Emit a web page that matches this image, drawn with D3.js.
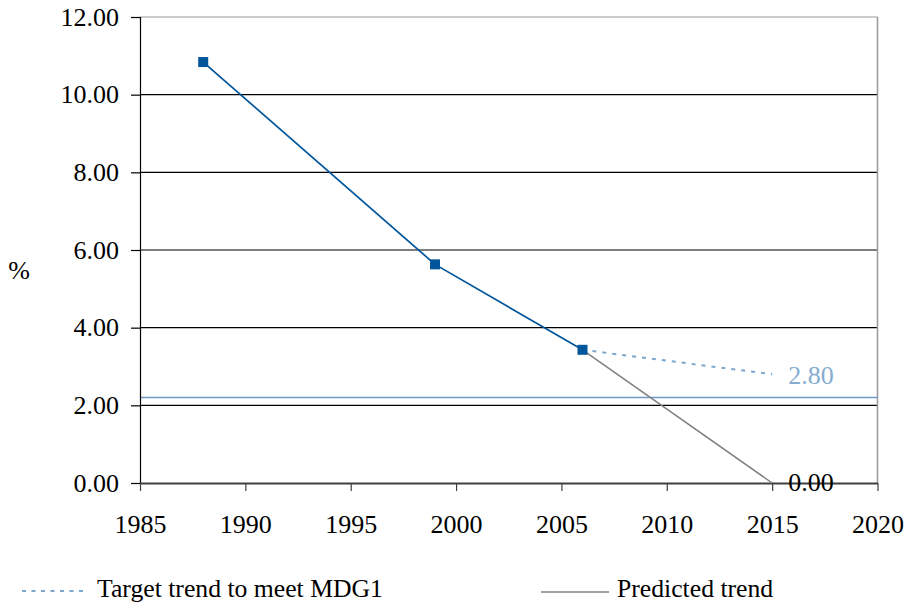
<!DOCTYPE html>
<html><head><meta charset="utf-8">
<script src="https://cdn.jsdelivr.net/npm/d3@7/dist/d3.min.js"></script>
</head><body style="margin:0;background:#fff"><svg id="c" width="909" height="607" style="display:block"></svg>
<script>
const years = [1988, 1999, 2006];
const values = [10.84, 5.63, 3.43];
const targetYears = [2006, 2015];
const targetValues = [3.43, 2.80];
const predictedYears = [2006, 2015];
const predictedValues = [3.43, 0.00];
const thresholdValue = 2.2;
const yTicks = [0, 2, 4, 6, 8, 10, 12];
const xTicks = [1985, 1990, 1995, 2000, 2005, 2010, 2015, 2020];
const legendLabels = ["Target trend to meet MDG1", "Predicted trend"];

const FONT = "Liberation Serif";
const svg = d3.select("#c").style("font-family", FONT);
const L = 140, R = 877.5, T = 17, B = 483;
const x = d3.scaleLinear().domain([1985, 2020]).range([L, R]);
const y = d3.scaleLinear().domain([0, 12]).range([B, T]);
const fs = 26;

svg.append("g").selectAll("line").data(yTicks.filter(d => d > 0 && d < 12)).join("line")
  .attr("x1", L).attr("x2", R).attr("y1", d => y(d)).attr("y2", d => y(d))
  .attr("stroke", "#000").attr("stroke-width", 1.2);
svg.append("line").attr("x1", L).attr("x2", R).attr("y1", y(12)).attr("y2", y(12)).attr("stroke", "#999").attr("stroke-width", 1.2);
svg.append("line").attr("x1", R).attr("x2", R).attr("y1", T).attr("y2", B).attr("stroke", "#999").attr("stroke-width", 1.5);
svg.append("line").attr("x1", L).attr("x2", R).attr("y1", y(thresholdValue)).attr("y2", y(thresholdValue))
  .attr("stroke", "#6b9bc7").attr("stroke-width", 1.5);

const yAxis = svg.append("g").attr("transform", `translate(${L},0)`)
  .call(d3.axisLeft(y).tickValues(yTicks).tickFormat(d3.format(".2f")).tickSize(9).tickPadding(12));
yAxis.attr("font-family", null).attr("font-size", null);
yAxis.select(".domain").attr("stroke", "#000").attr("stroke-width", 1.2);
yAxis.selectAll(".tick line").attr("stroke", "#000").attr("stroke-width", 1.2);
yAxis.selectAll("text").attr("fill", "#000").style("font-family", FONT).style("font-size", fs + "px");

const xAxis = svg.append("g").attr("transform", `translate(0,${B})`)
  .call(d3.axisBottom(x).tickValues(xTicks).tickFormat(d3.format("d")).tickSize(8).tickPadding(24).tickSizeOuter(0));
xAxis.attr("font-family", null).attr("font-size", null);
xAxis.select(".domain").attr("stroke", "#404040").attr("stroke-width", 2);
xAxis.selectAll(".tick line").attr("stroke", "#404040").attr("stroke-width", 1.2);
xAxis.selectAll("text").attr("fill", "#000").style("font-family", FONT).style("font-size", fs + "px");

svg.append("text").attr("x", 19).attr("y", 270).attr("text-anchor", "middle").attr("dominant-baseline", "central")
  .style("font-size", fs + "px").text("%");

const line = d3.line().x(d => x(d[0])).y(d => y(d[1]));
svg.append("path").attr("d", line(d3.zip(predictedYears, predictedValues)))
  .attr("fill", "none").attr("stroke", "#808080").attr("stroke-width", 1.5);
svg.append("path").attr("d", line(d3.zip(targetYears, targetValues)))
  .attr("fill", "none").attr("stroke", "#7ba7cf").attr("stroke-width", 2).attr("stroke-dasharray", "4,6");
svg.append("path").attr("d", line(d3.zip(years, values)))
  .attr("fill", "none").attr("stroke", "#00559b").attr("stroke-width", 1.7);
svg.append("g").selectAll("rect").data(d3.zip(years, values)).join("rect")
  .attr("x", d => x(d[0]) - 5).attr("y", d => y(d[1]) - 5).attr("width", 10).attr("height", 10)
  .attr("fill", "#00559b");

svg.append("text").attr("x", x(2015) + 16).attr("y", y(targetValues[1]) + 1).attr("dy", "0.32em")
  .style("font-size", fs + "px").attr("fill", "#86add0").text(d3.format(".2f")(targetValues[1]));
svg.append("text").attr("x", x(2015) + 16).attr("y", y(predictedValues[1])).attr("dy", "0.32em")
  .style("font-size", fs + "px").attr("fill", "#000").text(d3.format(".2f")(predictedValues[1]));

svg.append("line").attr("x1", 22).attr("x2", 88).attr("y1", 591).attr("y2", 591)
  .attr("stroke", "#7ba7cf").attr("stroke-width", 2).attr("stroke-dasharray", "4,5.5");
svg.append("text").attr("x", 97).attr("y", 597).style("font-size", "25.7px").text(legendLabels[0]);
svg.append("line").attr("x1", 541).attr("x2", 609).attr("y1", 592).attr("y2", 592)
  .attr("stroke", "#808080").attr("stroke-width", 1.5);
svg.append("text").attr("x", 617).attr("y", 597).style("font-size", "25.7px").text(legendLabels[1]);
</script></body></html>
